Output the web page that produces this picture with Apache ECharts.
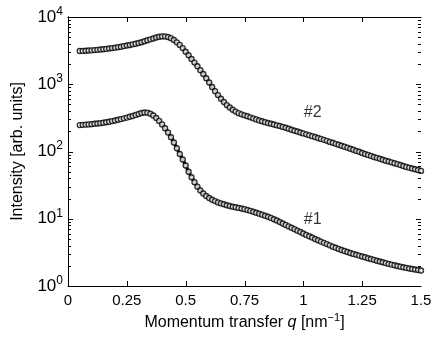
<!DOCTYPE html>
<html>
<head>
<meta charset="utf-8">
<script src="https://cdn.jsdelivr.net/npm/echarts@6/dist/echarts.min.js"></script>
<style>
  html, body {margin: 0; padding: 0; background: #fff;}
  #chart {width: 439px; height: 341px;}
</style>
</head>
<body>
<div id="chart"></div>
<script>
// momentum transfer q [nm^-1]
const qValues = [
  0.05, 0.0625, 0.075, 0.0875, 0.1, 0.1125, 0.125, 0.1375, 0.15, 0.1625, 0.175, 0.1875,
  0.2, 0.2125, 0.225, 0.2375, 0.25, 0.2625, 0.275, 0.2875, 0.3, 0.3125, 0.325, 0.3375,
  0.35, 0.3625, 0.375, 0.3875, 0.4, 0.4125, 0.425, 0.4375, 0.45, 0.4625, 0.475, 0.4875,
  0.5, 0.5125, 0.525, 0.5375, 0.55, 0.5625, 0.575, 0.5875, 0.6, 0.6125, 0.625, 0.6375,
  0.65, 0.6625, 0.675, 0.6875, 0.7, 0.7125, 0.725, 0.7375, 0.75, 0.7625, 0.775, 0.7875,
  0.8, 0.8125, 0.825, 0.8375, 0.85, 0.8625, 0.875, 0.8875, 0.9, 0.9125, 0.925, 0.9375,
  0.95, 0.9625, 0.975, 0.9875, 1.0, 1.0125, 1.025, 1.0375, 1.05, 1.0625, 1.075, 1.0875,
  1.1, 1.1125, 1.125, 1.1375, 1.15, 1.1625, 1.175, 1.1875, 1.2, 1.2125, 1.225, 1.2375,
  1.25, 1.2625, 1.275, 1.2875, 1.3, 1.3125, 1.325, 1.3375, 1.35, 1.3625, 1.375, 1.3875,
  1.4, 1.4125, 1.425, 1.4375, 1.45, 1.4625, 1.475, 1.4875, 1.5
];

// sample #2 (upper curve)
const sample2 = [
  3120, 3130, 3150, 3170, 3190, 3220, 3250, 3280, 3320, 3360, 3400, 3450,
  3500, 3560, 3620, 3690, 3760, 3840, 3920, 4010, 4100, 4220, 4350, 4500,
  4650, 4800, 4950, 5080, 5150, 5150, 5050, 4850, 4550, 4200, 3850, 3450,
  3050, 2700, 2380, 2100, 1850, 1620, 1420, 1230, 1060, 910, 790, 690,
  610, 545, 490, 450, 418, 392, 372, 357, 345, 334, 322, 311,
  300, 290, 281, 273, 266, 259, 252, 245, 239, 232, 225, 218,
  211, 204, 198, 192, 186, 180, 175, 169, 164, 159, 154, 149,
  144, 139, 135, 130, 126, 122, 118, 114, 110, 106, 102, 99,
  95, 92, 89, 86, 83, 80.5, 78, 75.5, 73, 71, 69, 67,
  65, 63, 61, 59, 57.5, 56, 54.5, 53, 51.5
];

// sample #1 (lower curve)
const sample1 = [
  247, 249, 251, 253, 255, 258, 261, 264, 268, 272, 277, 283,
  289, 296, 303, 311, 319, 328, 338, 350, 362, 373, 380, 378,
  365, 343, 315, 285, 253, 222, 192, 163, 136, 112, 92, 76,
  62, 50, 41.5, 35, 30, 26.3, 23.7, 21.8, 20.3, 19.2, 18.3, 17.5,
  16.9, 16.4, 15.9, 15.5, 15.1, 14.8, 14.5, 14.2, 13.9, 13.5, 13.1, 12.7,
  12.3, 11.9, 11.5, 11.1, 10.7, 10.3, 9.85, 9.4, 8.95, 8.5, 8.1, 7.7,
  7.35, 7.0, 6.65, 6.35, 6.05, 5.75, 5.5, 5.25, 5.0, 4.78, 4.57, 4.38,
  4.2, 4.02, 3.85, 3.7, 3.56, 3.43, 3.31, 3.2, 3.1, 3.0, 2.91, 2.83,
  2.75, 2.67, 2.59, 2.52, 2.45, 2.38, 2.31, 2.25, 2.19, 2.13, 2.08, 2.03,
  1.98, 1.94, 1.9, 1.86, 1.82, 1.79, 1.76, 1.73, 1.7
];

const curveLabels = [
  {name: '#2', q: 1.04, value: 380},
  {name: '#1', q: 1.04, value: 9.8},
];

const xTicks = [0, 0.25, 0.5, 0.75, 1, 1.25, 1.5];
const yDecades = [1, 10, 100, 1000, 10000];

const font = 'Liberation Sans';
const pairs = arr => qValues.map((q, i) => [q, arr[i]]);

const chart = echarts.init(document.getElementById('chart'), null, {renderer: 'canvas'});

const fitLine = data => ({
  type: 'line', data, showSymbol: false, smooth: true,
  lineStyle: {color: '#000', width: 3}, z: 2, silent: true,
});
const dots = data => ({
  type: 'scatter', data, symbol: 'circle', symbolSize: 5,
  itemStyle: {color: '#fff', borderColor: '#000', borderWidth: 1.4}, z: 3, silent: true,
});

const noTick = {show: false};

chart.setOption({
  animation: false,
  backgroundColor: '#fff',
  textStyle: {fontFamily: font, color: '#000'},
  grid: {left: 68, right: 18, top: 17, bottom: 55, show: false},
  xAxis: [
    {
      type: 'value', min: 0, max: 1.5, interval: 0.25,
      axisLine: {lineStyle: {color: '#000', width: 1}},
      axisTick: noTick,
      splitLine: {show: false},
      axisLabel: {
        color: '#000', fontSize: 15, fontFamily: font, margin: 7,
        formatter: v => xTicks.includes(v) ? String(v) : ''
      },
      name: '{n|Momentum transfer }{i|q}{n| [nm}{s|−1}{n|]}',
      nameLocation: 'middle', nameGap: 19,
      nameTextStyle: {
        rich: {
          n: {fontSize: 16, fontFamily: font, color: '#000'},
          i: {fontSize: 16, fontFamily: font, color: '#000', fontStyle: 'italic'},
          s: {fontSize: 11, fontFamily: font, color: '#000', padding: [0, 0, 9, 0]},
        }
      }
    },
    {
      type: 'value', position: 'top', min: 0, max: 1.5, interval: 0.25,
      axisLine: {show: true, lineStyle: {color: '#000', width: 1}},
      axisTick: noTick, axisLabel: {show: false}, splitLine: {show: false}
    }
  ],
  yAxis: [
    {
      type: 'log', logBase: 10, min: 1, max: 10000,
      axisLine: {show: true, lineStyle: {color: '#000', width: 1}},
      axisTick: noTick,
      splitLine: {show: false},
      axisLabel: {
        margin: 5,
        formatter: v => '{b|10}{s|' + Math.round(Math.log10(v)) + '}',
        rich: {
          b: {fontSize: 17, fontFamily: font, color: '#000'},
          s: {fontSize: 12, fontFamily: font, color: '#000', padding: [0, 0, 11, 0]},
        }
      },
      name: 'Intensity [arb. units]',
      nameLocation: 'middle', nameGap: 42, nameRotate: 90,
      nameTextStyle: {fontSize: 16, fontFamily: font, color: '#000'}
    },
    {
      type: 'log', logBase: 10, min: 1, max: 10000, position: 'right',
      axisLine: {show: true, lineStyle: {color: '#000', width: 1}},
      axisTick: noTick,
      axisLabel: {show: false}, splitLine: {show: false}
    }
  ],
  series: [
    fitLine(pairs(sample2)),
    fitLine(pairs(sample1)),
    dots(pairs(sample2)),
    dots(pairs(sample1)),
    {
      type: 'scatter', symbolSize: 0, silent: true,
      data: curveLabels.map(d => ({name: d.name, value: [d.q, d.value]})),
      label: {
        show: true, position: 'inside', formatter: p => p.name,
        fontSize: 16, fontFamily: font, color: '#000'
      }
    }
  ]
});

// inward ticks on all four sides (major + log minor), placed through the axis scales
const tickLines = () => {
  const out = [];
  const seg = (x1, y1, x2, y2) => out.push({
    type: 'line', silent: true, z: 100,
    shape: {x1, y1, x2, y2}, style: {stroke: '#000', lineWidth: 1}
  });
  const xl = chart.convertToPixel({xAxisIndex: 0}, 0);
  const xr = chart.convertToPixel({xAxisIndex: 0}, 1.5);
  const yb = chart.convertToPixel({yAxisIndex: 0}, 1);
  const yt = chart.convertToPixel({yAxisIndex: 0}, 10000);
  xTicks.slice(1, -1).forEach(v => {
    const x = Math.round(chart.convertToPixel({xAxisIndex: 0}, v)) + 0.5;
    seg(x, yb, x, yb - 5);
    seg(x, yt, x, yt + 5);
  });
  yDecades.forEach((d, i) => {
    const y = Math.round(chart.convertToPixel({yAxisIndex: 0}, d)) + 0.5;
    if (i > 0 && i < yDecades.length - 1) {
      seg(xl, y, xl + 5, y);
      seg(xr, y, xr - 5, y);
    }
    if (i === yDecades.length - 1) return;
    for (let m = 2; m <= 9; m++) {
      const ym = Math.round(chart.convertToPixel({yAxisIndex: 0}, d * m)) + 0.5;
      seg(xl, ym, xl + 3, ym);
      seg(xr, ym, xr - 3, ym);
    }
  });
  return out;
};

chart.setOption({graphic: {elements: tickLines()}});
</script>
</body>
</html>
